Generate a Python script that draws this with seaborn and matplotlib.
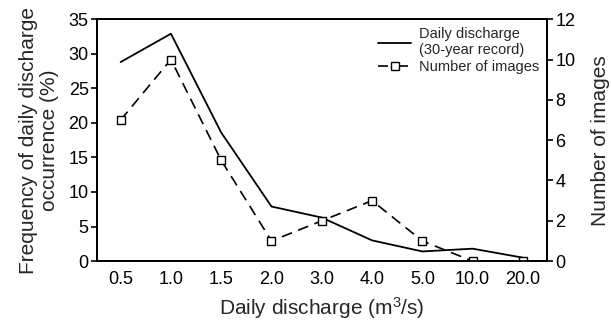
import matplotlib
matplotlib.use("Agg")
import matplotlib.pyplot as plt
import seaborn as sns
import pandas as pd
from matplotlib.lines import Line2D

categories = ["0.5", "1.0", "1.5", "2.0", "3.0", "4.0", "5.0", "10.0", "20.0"]
frequency_pct = [28.8, 32.9, 18.6, 7.9, 6.3, 3.0, 1.4, 1.8, 0.5]
num_images = [7, 10, 5, 1, 2, 3, 1, 0, 0]

sns.set_style("ticks")
plt.rcParams['font.family'] = ['Liberation Sans', 'DejaVu Sans']
plt.rcParams['mathtext.fontset'] = 'custom'
plt.rcParams['mathtext.rm'] = 'Liberation Sans'
plt.rcParams['mathtext.default'] = 'regular'

df = pd.DataFrame({"cat": categories, "freq": frequency_pct, "img": num_images})

fig = plt.figure(figsize=(6.11, 3.2), dpi=100)
ax = fig.add_axes([0.1588, 0.184, 0.7365, 0.756])
sns.lineplot(data=df, x="cat", y="freq", sort=False, ax=ax, color="black",
             linewidth=1.3, legend=False)
ax2 = ax.twinx()
sns.lineplot(data=df, x="cat", y="img", sort=False, ax=ax2, color="black",
             linewidth=1.2, linestyle=(0, (6.5, 4)), marker="s", markersize=6,
             markerfacecolor="white", markeredgecolor="black",
             markeredgewidth=1.0, legend=False)

ax.set_xlim(-0.47, 8.48)
ax.set_ylim(0, 35)
ax2.set_ylim(0, 12)
ax.set_yticks(range(0, 36, 5))
ax2.set_yticks(range(0, 13, 2))

for a in (ax, ax2):
    for s in a.spines.values():
        s.set_linewidth(1.3)
        s.set_color("black")
        s.set_visible(True)
ax.tick_params(axis="x", length=0, labelsize=13, pad=7, colors="black")
ax.tick_params(axis="y", length=4, width=1.2, labelsize=13, pad=2, direction="out", colors="black")
ax2.tick_params(axis="y", length=4, width=1.2, labelsize=13, pad=2, direction="out", colors="black")

ax.set_xlabel("Daily discharge (m$^3$/s)", fontsize=15, labelpad=5)
ax.set_ylabel("Frequency of daily discharge\noccurrence (%)", fontsize=15,
              linespacing=1.1, labelpad=7)
ax2.set_ylabel("Number of images", fontsize=15, labelpad=11)

handles = [
    Line2D([], [], color="black", linewidth=1.3),
    Line2D([], [], color="black", linewidth=1.2, linestyle=(0, (6, 6)),
           marker="s", markersize=5.5, markerfacecolor="white",
           markeredgecolor="black", markeredgewidth=1.0),
]
labels = ["Daily discharge\n(30-year record)", "Number of images"]
leg = ax2.legend(handles, labels, loc="upper right", frameon=False, fontsize=10.5,
                 handlelength=2.3, handletextpad=0.5, borderaxespad=0.15,
                 labelspacing=0.15)

fig.savefig("out.png", dpi=100)
